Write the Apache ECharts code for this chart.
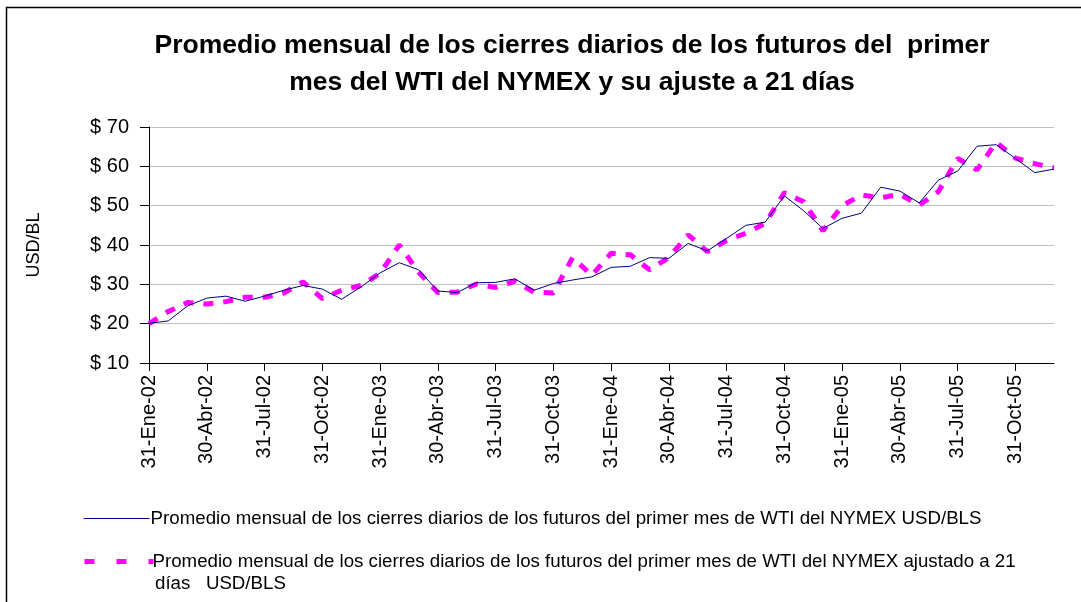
<!DOCTYPE html>
<html>
<head>
<meta charset="utf-8">
<title>WTI NYMEX</title>
<script src="https://cdn.jsdelivr.net/npm/echarts@6/dist/echarts.min.js"></script>
<style>
    html, body { margin: 0; padding: 0; background: #fff; }
    #chart { width: 1081px; height: 602px; }
</style>
</head>
<body>
<div id="chart"></div>
<script>
// fechas de fin de mes (ene-02 a dic-05)
var meses = [
    "31-Ene-02", "28-Feb-02", "31-Mar-02", "30-Abr-02", "31-May-02", "30-Jun-02",
    "31-Jul-02", "31-Ago-02", "30-Sep-02", "31-Oct-02", "30-Nov-02", "31-Dic-02",
    "31-Ene-03", "28-Feb-03", "31-Mar-03", "30-Abr-03", "31-May-03", "30-Jun-03",
    "31-Jul-03", "31-Ago-03", "30-Sep-03", "31-Oct-03", "30-Nov-03", "31-Dic-03",
    "31-Ene-04", "29-Feb-04", "31-Mar-04", "30-Abr-04", "31-May-04", "30-Jun-04",
    "31-Jul-04", "31-Ago-04", "30-Sep-04", "31-Oct-04", "30-Nov-04", "31-Dic-04",
    "31-Ene-05", "28-Feb-05", "31-Mar-05", "30-Abr-05", "31-May-05", "30-Jun-05",
    "31-Jul-05", "31-Ago-05", "30-Sep-05", "31-Oct-05", "30-Nov-05", "31-Dic-05"
];

// promedio mensual de cierres diarios, USD/BLS
var promedio = [
    20.1, 20.7, 24.5, 26.5, 27.0, 25.7, 27.0, 28.5, 29.7, 28.8, 26.2, 29.3,
    32.9, 35.5, 33.7, 28.3, 27.9, 30.4, 30.5, 31.4, 28.5, 30.2, 31.1, 31.9,
    34.3, 34.6, 36.8, 36.6, 40.4, 38.5, 41.7, 45.0, 45.8, 52.5, 48.7, 44.2,
    46.8, 48.1, 54.7, 53.7, 50.7, 56.5, 58.8, 65.1, 65.5, 62.0, 58.4, 59.3
];

// promedio ajustado a 21 dias, USD/BLS
var ajustado = [
    20.0, 23.1, 25.4, 25.0, 25.6, 26.7, 26.7, 27.8, 30.6, 26.4, 28.5, 29.7,
    32.8, 40.0, 33.1, 27.9, 28.0, 30.1, 29.2, 30.8, 28.0, 27.8, 36.8, 32.3,
    37.9, 37.5, 33.7, 36.8, 42.6, 38.3, 41.2, 43.0, 45.5, 53.3, 51.0, 43.6,
    50.0, 52.7, 52.0, 52.9, 50.1, 53.6, 62.0, 59.1, 66.1, 62.1, 60.7, 59.6
];

var nombrePromedio = "Promedio mensual de los cierres diarios de los futuros del primer mes de WTI del NYMEX USD/BLS";
var nombreAjustado = "Promedio mensual de los cierres diarios de los futuros del primer mes de WTI del NYMEX ajustado a 21";

var fuente = "Liberation Sans, Arial, sans-serif";

var chart = echarts.init(document.getElementById("chart"));

chart.setOption({
    animation: false,
    backgroundColor: "#fff",
    title: {
        text: "Promedio mensual de los cierres diarios de los futuros del  primer\nmes del WTI del NYMEX y su ajuste a 21 días",
        left: 572,
        top: 27,
        padding: 0,
        textAlign: "center",
        textStyle: {
            fontFamily: fuente,
            fontSize: 26.5,
            fontWeight: "bold",
            color: "#000",
            lineHeight: 37
        }
    },
    legend: [{
        data: [nombrePromedio],
        left: 83,
        top: 509,
        padding: 0,
        itemWidth: 66,
        itemHeight: 16,
        itemStyle: { opacity: 0 },
        lineStyle: { width: 1.2 },
        textStyle: { fontFamily: fuente, fontSize: 18.7, color: "#000", padding: [0, 0, 0, -4] }
    }, {
        data: [nombreAjustado],
        left: 82,
        top: 552,
        padding: 0,
        itemWidth: 69,
        itemHeight: 16,
        itemStyle: { opacity: 0 },
        lineStyle: { width: 5, type: [10, 22] },
        textStyle: { fontFamily: fuente, fontSize: 18.7, color: "#000", padding: [0, 0, 0, -6] }
    }],
    graphic: [{
        // marco del grafico
        type: "rect",
        shape: { x: 6.5, y: 7.5, width: 1200, height: 800 },
        style: { fill: "none", stroke: "#000", lineWidth: 1.5 },
        silent: true
    }, {
        type: "text",
        left: 155,
        top: 574,
        style: { text: "días   USD/BLS", font: "18.7px " + fuente, fill: "#000" }
    }],
    grid: {
        left: 149,
        right: 27,
        top: 127,
        bottom: 239,
        containLabel: false
    },
    xAxis: {
        type: "category",
        data: meses,
        boundaryGap: false,
        axisLine: { lineStyle: { color: "#000", width: 1 } },
        axisTick: { interval: 2, length: 8, lineStyle: { color: "#000" } },
        axisLabel: {
            interval: 2,
            rotate: 90,
            margin: 12,
            fontFamily: fuente,
            fontSize: 20,
            color: "#000"
        },
        splitLine: { show: false }
    },
    yAxis: {
        type: "value",
        min: 10,
        max: 70,
        interval: 10,
        name: "USD/BL",
        nameLocation: "middle",
        nameRotate: 90,
        nameGap: 106,
        nameTextStyle: { fontFamily: fuente, fontSize: 18, color: "#000" },
        axisLine: { show: true, lineStyle: { color: "#000", width: 1 } },
        axisTick: { show: true, length: 9, lineStyle: { color: "#000" } },
        axisLabel: {
            margin: 20,
            fontFamily: fuente,
            fontSize: 20,
            color: "#000",
            formatter: function (v) { return "$ " + v; }
        },
        splitLine: { lineStyle: { color: "#c0c0c0", width: 1 } }
    },
    series: [{
        name: nombrePromedio,
        type: "line",
        data: promedio,
        symbol: "none",
        z: 3,
        lineStyle: { color: "#000080", width: 1 },
        itemStyle: { color: "#000080" }
    }, {
        name: nombreAjustado,
        type: "line",
        data: ajustado,
        symbol: "none",
        z: 2,
        lineStyle: { color: "#ff00ff", width: 5, type: [10, 10] },
        itemStyle: { color: "#ff00ff" }
    }]
});
</script>
</body>
</html>
